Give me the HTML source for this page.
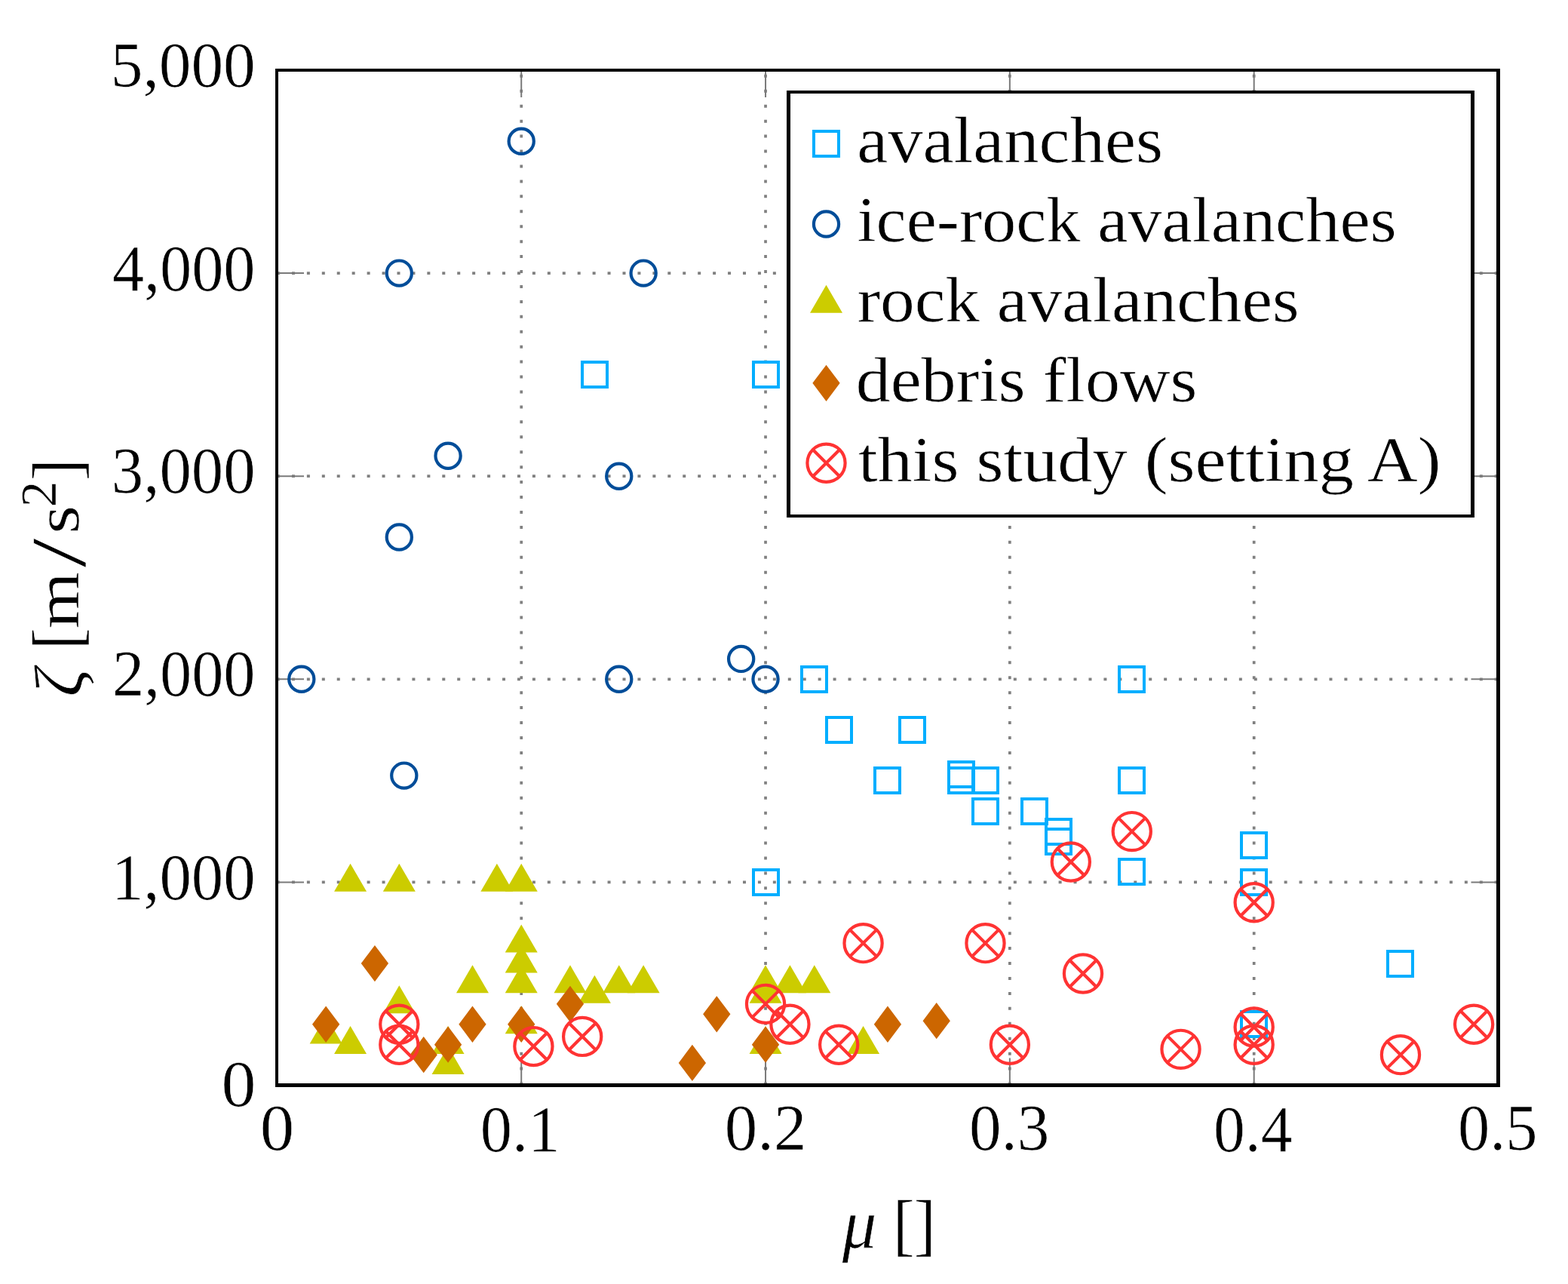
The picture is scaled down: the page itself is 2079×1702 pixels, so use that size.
<!DOCTYPE html>
<html><head><meta charset="utf-8"><title>plot</title>
<style>html,body{margin:0;padding:0;background:#fff;}body{width:2079px;height:1702px;overflow:hidden;}svg{display:block;}</style>
</head><body>
<svg width="2079" height="1702" viewBox="0 0 2079 1702"><g stroke="#808080" stroke-width="3.7" stroke-dasharray="4 15.935" fill="none"><path d="M691.22 1438.5V93.0"/><path d="M1015.04 1438.5V93.0"/><path d="M1338.86 1438.5V93.0"/><path d="M1662.68 1438.5V93.0"/><path d="M367.0 1169.4H1986.5"/><path d="M367.0 900.3H1986.5"/><path d="M367.0 631.2H1986.5"/><path d="M367.0 362.1H1986.5"/></g>
<g stroke="#7a7a7a" stroke-width="2" fill="none"><path d="M691.22 1438.5v-36M691.22 93.0v36"/><path d="M1015.04 1438.5v-36M1015.04 93.0v36"/><path d="M1338.86 1438.5v-36M1338.86 93.0v36"/><path d="M1662.68 1438.5v-36M1662.68 93.0v36"/><path d="M367.0 1169.4h36M1986.5 1169.4h-36"/><path d="M367.0 900.3h36M1986.5 900.3h-36"/><path d="M367.0 631.2h36M1986.5 631.2h-36"/><path d="M367.0 362.1h36M1986.5 362.1h-36"/></g>
<rect x="772" y="480" width="33" height="33" fill="none" stroke="#00AEFF" stroke-width="4"/><rect x="999" y="480" width="33" height="33" fill="none" stroke="#00AEFF" stroke-width="4"/><rect x="1063" y="884" width="33" height="33" fill="none" stroke="#00AEFF" stroke-width="4"/><rect x="1484" y="884" width="33" height="33" fill="none" stroke="#00AEFF" stroke-width="4"/><rect x="1096" y="951" width="33" height="33" fill="none" stroke="#00AEFF" stroke-width="4"/><rect x="1193" y="951" width="33" height="33" fill="none" stroke="#00AEFF" stroke-width="4"/><rect x="1160" y="1018" width="33" height="33" fill="none" stroke="#00AEFF" stroke-width="4"/><rect x="1258" y="1010" width="33" height="33" fill="none" stroke="#00AEFF" stroke-width="4"/><rect x="1258" y="1018" width="33" height="33" fill="none" stroke="#00AEFF" stroke-width="4"/><rect x="1290" y="1018" width="33" height="33" fill="none" stroke="#00AEFF" stroke-width="4"/><rect x="1290" y="1059" width="33" height="33" fill="none" stroke="#00AEFF" stroke-width="4"/><rect x="1355" y="1059" width="33" height="33" fill="none" stroke="#00AEFF" stroke-width="4"/><rect x="1387" y="1086" width="33" height="33" fill="none" stroke="#00AEFF" stroke-width="4"/><rect x="1387" y="1099" width="33" height="33" fill="none" stroke="#00AEFF" stroke-width="4"/><rect x="1484" y="1018" width="33" height="33" fill="none" stroke="#00AEFF" stroke-width="4"/><rect x="1484" y="1139" width="33" height="33" fill="none" stroke="#00AEFF" stroke-width="4"/><rect x="999" y="1153" width="33" height="33" fill="none" stroke="#00AEFF" stroke-width="4"/><rect x="1646" y="1104" width="33" height="33" fill="none" stroke="#00AEFF" stroke-width="4"/><rect x="1646" y="1153" width="33" height="33" fill="none" stroke="#00AEFF" stroke-width="4"/><rect x="1646" y="1341" width="33" height="33" fill="none" stroke="#00AEFF" stroke-width="4"/><rect x="1840" y="1261" width="33" height="33" fill="none" stroke="#00AEFF" stroke-width="4"/>
<circle cx="691.22" cy="187.18" r="16.6" fill="none" stroke="#004D99" stroke-width="4.2"/><circle cx="529.31" cy="362.1" r="16.6" fill="none" stroke="#004D99" stroke-width="4.2"/><circle cx="853.13" cy="362.1" r="16.6" fill="none" stroke="#004D99" stroke-width="4.2"/><circle cx="594.07" cy="604.29" r="16.6" fill="none" stroke="#004D99" stroke-width="4.2"/><circle cx="820.75" cy="631.2" r="16.6" fill="none" stroke="#004D99" stroke-width="4.2"/><circle cx="529.31" cy="711.93" r="16.6" fill="none" stroke="#004D99" stroke-width="4.2"/><circle cx="399.78" cy="900.3" r="16.6" fill="none" stroke="#004D99" stroke-width="4.2"/><circle cx="820.75" cy="900.3" r="16.6" fill="none" stroke="#004D99" stroke-width="4.2"/><circle cx="982.66" cy="873.39" r="16.6" fill="none" stroke="#004D99" stroke-width="4.2"/><circle cx="1015.04" cy="900.3" r="16.6" fill="none" stroke="#004D99" stroke-width="4.2"/><circle cx="535.79" cy="1028.12" r="16.6" fill="none" stroke="#004D99" stroke-width="4.2"/>
<polygon points="464.55,1144.8 486.05,1181.8 443.05,1181.8" fill="#CCCC00"/><polygon points="529.31,1144.8 550.81,1181.8 507.81,1181.8" fill="#CCCC00"/><polygon points="658.84,1144.8 680.34,1181.8 637.34,1181.8" fill="#CCCC00"/><polygon points="691.22,1144.8 712.72,1181.8 669.72,1181.8" fill="#CCCC00"/><polygon points="691.22,1225.53 712.72,1262.53 669.72,1262.53" fill="#CCCC00"/><polygon points="691.22,1252.44 712.72,1289.44 669.72,1289.44" fill="#CCCC00"/><polygon points="691.22,1279.35 712.72,1316.35 669.72,1316.35" fill="#CCCC00"/><polygon points="626.46,1279.35 647.96,1316.35 604.96,1316.35" fill="#CCCC00"/><polygon points="529.31,1306.26 550.81,1343.26 507.81,1343.26" fill="#CCCC00"/><polygon points="691.22,1333.17 712.72,1370.17 669.72,1370.17" fill="#CCCC00"/><polygon points="432.16,1346.62 453.66,1383.62 410.66,1383.62" fill="#CCCC00"/><polygon points="464.55,1360.08 486.05,1397.08 443.05,1397.08" fill="#CCCC00"/><polygon points="594.07,1386.99 615.57,1423.99 572.57,1423.99" fill="#CCCC00"/><polygon points="594.07,1360.08 615.57,1397.08 572.57,1397.08" fill="#CCCC00"/><polygon points="755.98,1279.35 777.48,1316.35 734.48,1316.35" fill="#CCCC00"/><polygon points="788.37,1292.81 809.87,1329.81 766.87,1329.81" fill="#CCCC00"/><polygon points="820.75,1279.35 842.25,1316.35 799.25,1316.35" fill="#CCCC00"/><polygon points="853.13,1279.35 874.63,1316.35 831.63,1316.35" fill="#CCCC00"/><polygon points="1015.04,1279.35 1036.54,1316.35 993.54,1316.35" fill="#CCCC00"/><polygon points="1015.04,1292.81 1036.54,1329.81 993.54,1329.81" fill="#CCCC00"/><polygon points="1015.04,1360.08 1036.54,1397.08 993.54,1397.08" fill="#CCCC00"/><polygon points="1047.42,1279.35 1068.92,1316.35 1025.92,1316.35" fill="#CCCC00"/><polygon points="1079.8,1279.35 1101.3,1316.35 1058.3,1316.35" fill="#CCCC00"/><polygon points="1144.57,1360.08 1166.07,1397.08 1123.07,1397.08" fill="#CCCC00"/>
<polygon points="496.93,1252.89 515.08,1277.04 496.93,1301.19 478.78,1277.04" fill="#CC6600"/><polygon points="432.16,1333.62 450.31,1357.77 432.16,1381.92 414.01,1357.77" fill="#CC6600"/><polygon points="561.69,1373.98 579.84,1398.13 561.69,1422.29 543.54,1398.13" fill="#CC6600"/><polygon points="594.07,1360.53 612.22,1384.68 594.07,1408.83 575.92,1384.68" fill="#CC6600"/><polygon points="626.46,1333.62 644.61,1357.77 626.46,1381.92 608.31,1357.77" fill="#CC6600"/><polygon points="691.22,1333.62 709.37,1357.77 691.22,1381.92 673.07,1357.77" fill="#CC6600"/><polygon points="755.98,1306.71 774.13,1330.86 755.98,1355.01 737.83,1330.86" fill="#CC6600"/><polygon points="950.28,1320.16 968.43,1344.32 950.28,1368.47 932.13,1344.32" fill="#CC6600"/><polygon points="917.89,1384.75 936.04,1408.9 917.89,1433.05 899.74,1408.9" fill="#CC6600"/><polygon points="1015.04,1360.53 1033.19,1384.68 1015.04,1408.83 996.89,1384.68" fill="#CC6600"/><polygon points="1176.95,1333.62 1195.1,1357.77 1176.95,1381.92 1158.8,1357.77" fill="#CC6600"/><polygon points="1241.71,1329.05 1259.86,1353.2 1241.71,1377.35 1223.56,1353.2" fill="#CC6600"/>
<g stroke="#FF3333" stroke-width="4.2" fill="none"><circle cx="529.31" cy="1357.77" r="25.1"/><path d="M511.56 1340.02L547.06 1375.52M511.56 1375.52L547.06 1340.02"/></g><g stroke="#FF3333" stroke-width="4.2" fill="none"><circle cx="529.31" cy="1384.68" r="25.1"/><path d="M511.56 1366.93L547.06 1402.43M511.56 1402.43L547.06 1366.93"/></g><g stroke="#FF3333" stroke-width="4.2" fill="none"><circle cx="707.41" cy="1387.1" r="25.1"/><path d="M689.66 1369.35L725.16 1404.85M689.66 1404.85L725.16 1369.35"/></g><g stroke="#FF3333" stroke-width="4.2" fill="none"><circle cx="772.17" cy="1373.92" r="25.1"/><path d="M754.43 1356.17L789.92 1391.66M754.43 1391.66L789.92 1356.17"/></g><g stroke="#FF3333" stroke-width="4.2" fill="none"><circle cx="1015.04" cy="1330.86" r="25.1"/><path d="M997.29 1313.11L1032.79 1348.61M997.29 1348.61L1032.79 1313.11"/></g><g stroke="#FF3333" stroke-width="4.2" fill="none"><circle cx="1047.42" cy="1357.77" r="25.1"/><path d="M1029.67 1340.02L1065.17 1375.52M1029.67 1375.52L1065.17 1340.02"/></g><g stroke="#FF3333" stroke-width="4.2" fill="none"><circle cx="1112.19" cy="1384.68" r="25.1"/><path d="M1094.44 1366.93L1129.93 1402.43M1094.44 1402.43L1129.93 1366.93"/></g><g stroke="#FF3333" stroke-width="4.2" fill="none"><circle cx="1144.57" cy="1250.13" r="25.1"/><path d="M1126.82 1232.38L1162.32 1267.88M1126.82 1267.88L1162.32 1232.38"/></g><g stroke="#FF3333" stroke-width="4.2" fill="none"><circle cx="1306.48" cy="1250.13" r="25.1"/><path d="M1288.73 1232.38L1324.23 1267.88M1288.73 1267.88L1324.23 1232.38"/></g><g stroke="#FF3333" stroke-width="4.2" fill="none"><circle cx="1338.86" cy="1384.68" r="25.1"/><path d="M1321.11 1366.93L1356.61 1402.43M1321.11 1402.43L1356.61 1366.93"/></g><g stroke="#FF3333" stroke-width="4.2" fill="none"><circle cx="1419.82" cy="1142.49" r="25.1"/><path d="M1402.07 1124.74L1437.56 1160.24M1402.07 1160.24L1437.56 1124.74"/></g><g stroke="#FF3333" stroke-width="4.2" fill="none"><circle cx="1500.77" cy="1102.12" r="25.1"/><path d="M1483.02 1084.38L1518.52 1119.87M1483.02 1119.87L1518.52 1084.38"/></g><g stroke="#FF3333" stroke-width="4.2" fill="none"><circle cx="1662.68" cy="1196.31" r="25.1"/><path d="M1644.93 1178.56L1680.43 1214.06M1644.93 1214.06L1680.43 1178.56"/></g><g stroke="#FF3333" stroke-width="4.2" fill="none"><circle cx="1436.01" cy="1290.49" r="25.1"/><path d="M1418.26 1272.75L1453.75 1308.24M1418.26 1308.24L1453.75 1272.75"/></g><g stroke="#FF3333" stroke-width="4.2" fill="none"><circle cx="1565.53" cy="1390.87" r="25.1"/><path d="M1547.79 1373.12L1583.28 1408.62M1547.79 1408.62L1583.28 1373.12"/></g><g stroke="#FF3333" stroke-width="4.2" fill="none"><circle cx="1662.68" cy="1361.54" r="25.1"/><path d="M1644.93 1343.79L1680.43 1379.29M1644.93 1379.29L1680.43 1343.79"/></g><g stroke="#FF3333" stroke-width="4.2" fill="none"><circle cx="1662.68" cy="1384.68" r="25.1"/><path d="M1644.93 1366.93L1680.43 1402.43M1644.93 1402.43L1680.43 1366.93"/></g><g stroke="#FF3333" stroke-width="4.2" fill="none"><circle cx="1856.97" cy="1398.13" r="25.1"/><path d="M1839.22 1380.39L1874.72 1415.88M1839.22 1415.88L1874.72 1380.39"/></g><g stroke="#FF3333" stroke-width="4.2" fill="none"><circle cx="1954.12" cy="1357.77" r="25.1"/><path d="M1936.37 1340.02L1971.87 1375.52M1936.37 1375.52L1971.87 1340.02"/></g>
<g fill="#000"><rect x="365" y="91" width="4" height="1350"/><rect x="1984" y="91" width="5" height="1350"/><rect x="365" y="91" width="1624" height="4"/><rect x="365" y="1436" width="1624" height="5"/></g>
<rect x="1043" y="120" width="912" height="566" fill="#fff"/><g fill="#000"><rect x="1043" y="120" width="5" height="566"/><rect x="1950" y="120" width="5" height="566"/><rect x="1043" y="120" width="912" height="4"/><rect x="1043" y="682" width="912" height="4"/></g>
<rect x="1079" y="174" width="33" height="33" fill="none" stroke="#00AEFF" stroke-width="4"/>
<circle cx="1095.5" cy="297" r="16.6" fill="none" stroke="#004D99" stroke-width="4.2"/>
<polygon points="1095.5,377.7 1117,414.7 1074,414.7" fill="#CCCC00"/>
<polygon points="1095.5,483.65 1113.65,507.8 1095.5,531.95 1077.35,507.8" fill="#CC6600"/>
<g stroke="#FF3333" stroke-width="4.2" fill="none"><circle cx="1095.5" cy="613.8" r="25.1"/><path d="M1077.75 596.05L1113.25 631.55M1077.75 631.55L1113.25 596.05"/></g>
<g font-size="86" font-family="'Liberation Serif', serif" fill="#000" stroke="#fff" stroke-width="0.6"><text transform="translate(146.74 114.61) scale(0.9924 0.9948)" >5,000</text><text transform="translate(148.89 384.90) scale(0.9801 1.0034)" >4,000</text><text transform="translate(147.87 652.90) scale(0.9854 1.0000)" >3,000</text><text transform="translate(148.88 921.70) scale(0.9801 1.0000)" >2,000</text><text transform="translate(147.92 1192.10) scale(0.9852 1.0034)" >1,000</text><text transform="translate(293.43 1465.99) scale(1.0686 1.0069)" >0</text><text transform="translate(344.77 1523.85) scale(1.0571 0.9974)" >0</text><text transform="translate(636.87 1525.90) scale(0.9816 1.0034)" >0.1</text><text transform="translate(960.86 1523.80) scale(1.0112 0.9983)" >0.2</text><text transform="translate(1284.94 1523.80) scale(0.9910 0.9983)" >0.3</text><text transform="translate(1609.01 1525.90) scale(0.9716 1.0034)" >0.4</text><text transform="translate(1932.97 1523.80) scale(0.9820 0.9983)" >0.5</text><text transform="translate(1136.17 214.80) scale(1.0760 0.9984)" >avalanches</text><text transform="translate(1136.40 320.21) scale(1.0514 0.9869)" >ice-rock avalanches</text><text transform="translate(1136.68 426.01) scale(1.0625 0.9852)" >rock avalanches</text><text transform="translate(1134.72 532.00) scale(1.0706 0.9952)" >debris flows</text><text transform="translate(1137.93 638.00) scale(1.0745 0.9933)" >this study (setting A)</text><text transform="translate(1116.74 1654.23) scale(1.0564 1.0879)" font-style="italic">μ</text><text transform="translate(1183.72 1654.28) scale(1.0111 1.0597)" >[</text><text transform="translate(1211.76 1654.28) scale(1.0111 1.0597)" >]</text><text transform="translate(108.52 923.52) scale(1.0486 1.0722) rotate(-90)" font-style="italic">ζ</text><text transform="translate(106.22 861.32) scale(1.0569 1.0167) rotate(-90)" >[</text><text transform="translate(104.10 833.15) scale(0.9537 1.1246) rotate(-90)" >m</text><text transform="translate(112.64 752.54) scale(1.2078 1.6364) rotate(-90)" >/</text><text transform="translate(104.15 707.72) scale(0.9548 1.1308) rotate(-90)" >s</text><text transform="translate(74.10 672.31) scale(0.7754 0.8029) rotate(-90)" >2</text><text transform="translate(106.34 637.15) scale(1.0549 1.0133) rotate(-90)" >]</text></g></svg>
</body></html>
